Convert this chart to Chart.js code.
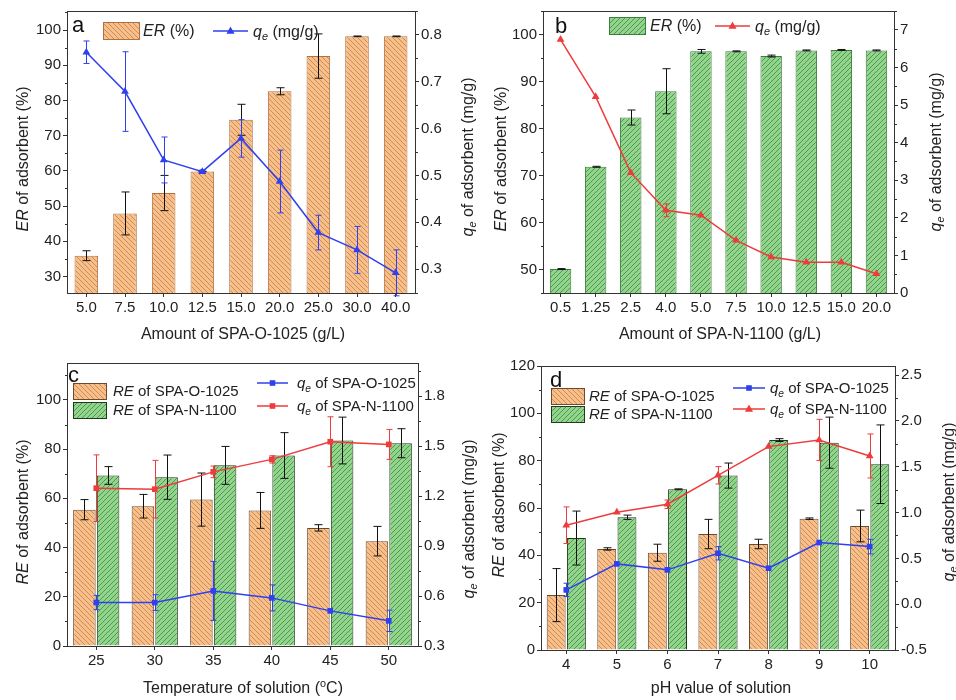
<!DOCTYPE html>
<html>
<head>
<meta charset="utf-8">
<script src="https://cdn.jsdelivr.net/npm/chart.js@4.4.1/dist/chart.umd.min.js"></script>
<style>
body { margin: 0; background: #fff; }
#wrap { position: relative; width: 956px; height: 700px; }
canvas { position: absolute; }
</style>
</head>
<body>
<div id="wrap">
<canvas id="ca" width="478" height="352" style="left:0;top:0"></canvas>
<canvas id="cb" width="478" height="352" style="left:478px;top:0"></canvas>
<canvas id="cc" width="478" height="360" style="left:0;top:340px"></canvas>
<canvas id="cd" width="478" height="360" style="left:478px;top:340px"></canvas>
</div>
<script>
// panel a: SPA-O-1025 dosage
var catsA = ['5.0', '7.5', '10.0', '12.5', '15.0', '20.0', '25.0', '30.0', '40.0'];
var erA = [35.9, 47.9, 53.7, 59.8, 74.5, 82.6, 92.6, 98.2, 98.2];
var erErrA = [1.4, 6.1, 5.0, 0.1, 4.4, 1.0, 6.3, 0.1, 0.1];
var qeA = [0.763, 0.679, 0.533, 0.508, 0.579, 0.487, 0.378, 0.341, 0.292];
var qeErrA = [0.024, 0.085, 0.049, 0.004, 0.04, 0.067, 0.037, 0.05, 0.049];
var ticksAL = [30, 40, 50, 60, 70, 80, 90, 100];
var ticksAR = [0.3, 0.4, 0.5, 0.6, 0.7, 0.8];

// panel b: SPA-N-1100 dosage
var catsB = ['0.5', '1.25', '2.5', '4.0', '5.0', '7.5', '10.0', '12.5', '15.0', '20.0'];
var erB = [50.1, 71.9, 82.4, 88.0, 96.5, 96.5, 95.5, 96.7, 96.8, 96.7];
var erErrB = [0.1, 0.1, 1.6, 4.8, 0.4, 0.1, 0.2, 0.1, 0.1, 0.1];
var qeB = [6.74, 5.22, 3.2, 2.2, 2.07, 1.4, 0.96, 0.82, 0.82, 0.51];
var qeErrB = [0, 0, 0, 0.17, 0, 0, 0, 0, 0, 0];
var ticksBL = [50, 60, 70, 80, 90, 100];
var ticksBR = [0, 1, 2, 3, 4, 5, 6, 7];

// panel c: temperature
var catsC = ['25', '30', '35', '40', '45', '50'];
var reOC = [55.4, 56.8, 59.5, 55.1, 48.0, 42.6];
var reOErrC = [4.1, 4.8, 10.8, 7.3, 1.3, 6.0];
var reNC = [69.3, 68.6, 73.4, 77.4, 83.5, 82.4];
var reNErrC = [3.6, 9.0, 7.7, 9.3, 9.5, 5.9];
var qeOC = [0.561, 0.561, 0.631, 0.589, 0.511, 0.451];
var qeOErrC = [0.043, 0.047, 0.177, 0.078, 0, 0.064];
var qeNC = [1.248, 1.242, 1.346, 1.421, 1.527, 1.511];
var qeNErrC = [0.2, 0.173, 0.035, 0.022, 0.15, 0.09];
var ticksCL = [0, 20, 40, 60, 80, 100];
var ticksCR = [0.3, 0.6, 0.9, 1.2, 1.5, 1.8];

// panel d: pH
var catsD = ['4', '5', '6', '7', '8', '9', '10'];
var reOD = [23.2, 42.7, 41.1, 49.0, 44.8, 55.5, 52.4];
var reOErrD = [11.2, 0.5, 3.6, 6.2, 2.0, 0.3, 6.7];
var reND = [47.3, 56.1, 67.9, 73.7, 88.7, 87.6, 78.5];
var reNErrD = [11.4, 0.9, 0.2, 5.3, 0.6, 10.8, 16.6];
var qeOD = [0.156, 0.44, 0.375, 0.556, 0.393, 0.673, 0.629];
var qeOErrD = [0.073, 0, 0, 0.073, 0, 0, 0.08];
var qeND = [0.862, 1.004, 1.091, 1.407, 1.72, 1.793, 1.618];
var qeNErrD = [0.2, 0, 0.046, 0.095, 0, 0.225, 0.24];
var ticksDL = [0, 20, 40, 60, 80, 100, 120];
var ticksDR = [-0.5, 0, 0.5, 1.0, 1.5, 2.0, 2.5];

var FONT = '"Liberation Sans", Arial, sans-serif';
var BLUE = '#3040ee', RED = '#ee3b3b';
Chart.defaults.font.family = FONT;
Chart.defaults.color = '#222';

// hatched fills
function hatch(bg, fg, forward) {
  var n = 5;
  var c = document.createElement('canvas');
  c.width = c.height = n;
  var x = c.getContext('2d');
  x.fillStyle = bg;
  x.fillRect(0, 0, n, n);
  x.strokeStyle = fg;
  x.lineWidth = 1;
  x.beginPath();
  if (forward) {
    x.moveTo(0, n); x.lineTo(n, 0);
    x.moveTo(-1, 1); x.lineTo(1, -1);
    x.moveTo(n - 1, n + 1); x.lineTo(n + 1, n - 1);
  } else {
    x.moveTo(0, 0); x.lineTo(n, n);
    x.moveTo(-1, n - 1); x.lineTo(1, n + 1);
    x.moveTo(n - 1, -1); x.lineTo(n + 1, 1);
  }
  x.stroke();
  return x.createPattern(c, 'repeat');
}
var ORANGE = hatch('#f7bf8a', '#cf8a55', false);
var GREEN = hatch('#92d48d', '#4d9a4b', true);

// text with italic / sub / sup runs
function rich(ctx, runs, cx, cy, rot, size, align) {
  ctx.save();
  ctx.translate(cx, cy);
  ctx.rotate(rot || 0);
  var parts = runs.map(function (r) {
    var st = r[1] || '';
    var small = st.indexOf('sub') >= 0 || st.indexOf('sup') >= 0;
    var s = small ? size * 0.68 : size;
    var font = (st.indexOf('i') >= 0 ? 'italic ' : '') + s + 'px ' + FONT;
    ctx.font = font;
    var dy = st.indexOf('sub') >= 0 ? size * 0.22 : (st.indexOf('sup') >= 0 ? -size * 0.38 : 0);
    return { t: r[0], font: font, w: ctx.measureText(r[0]).width, dy: dy };
  });
  var total = parts.reduce(function (a, p) { return a + p.w; }, 0);
  var x = align === 'left' ? 0 : -total / 2;
  ctx.fillStyle = '#222';
  ctx.textBaseline = 'alphabetic';
  parts.forEach(function (p) {
    ctx.font = p.font;
    ctx.fillText(p.t, x, size * 0.36 + p.dy);
    x += p.w;
  });
  ctx.restore();
}

function marker(ctx, style, x, y, r, color) {
  ctx.fillStyle = color;
  ctx.beginPath();
  if (style === 'triangle') {
    ctx.moveTo(x, y - r); ctx.lineTo(x + r * 0.9, y + r * 0.6); ctx.lineTo(x - r * 0.9, y + r * 0.6);
  } else {
    ctx.rect(x - r * 0.7, y - r * 0.7, r * 1.4, r * 1.4);
  }
  ctx.fill();
}

// error bars, drawn right after each dataset
var errorBars = {
  id: 'errorBars',
  afterDatasetDraw: function (chart, args) {
    var ds = chart.data.datasets[args.index];
    if (!ds.errors) return;
    var ctx = chart.ctx, ys = chart.scales[ds.yAxisID];
    var w = ds.capWidth || 4;
    ctx.save();
    ctx.strokeStyle = ds.errorColor;
    ctx.lineWidth = 1;
    args.meta.data.forEach(function (el, i) {
      var e = ds.errors[i];
      if (!e) return;
      var x = Math.round(el.x) + 0.5;
      var y1 = ys.getPixelForValue(ds.data[i] + e), y2 = ys.getPixelForValue(ds.data[i] - e);
      ctx.beginPath();
      ctx.moveTo(x, y1); ctx.lineTo(x, y2);
      ctx.moveTo(x - w, y1); ctx.lineTo(x + w, y1);
      ctx.moveTo(x - w, y2); ctx.lineTo(x + w, y2);
      ctx.stroke();
    });
    ctx.restore();
  }
};

var decorCfg = {};
var qeRuns = [['q', 'i'], ['e', 'isub'], [' of adsorbent (mg/g)']];

// frame, minor ticks, axis titles, legend
var decor = {
  id: 'decor',
  afterDraw: function (chart) {
    var d = decorCfg[chart.canvas.id];
    var ctx = chart.ctx, a = chart.chartArea;
    ctx.save();
    ctx.strokeStyle = '#333';
    ctx.lineWidth = 1;
    ctx.strokeRect(Math.round(a.left) + 0.5, Math.round(a.top) + 0.5, Math.round(a.right - a.left), Math.round(a.bottom - a.top));
    ['yL', 'yR'].forEach(function (id) {
      var s = chart.scales[id], tk = s.ticks.map(function (t) { return t.value; });
      var step = tk[1] - tk[0], x = id === 'yL' ? Math.round(a.left) + 0.5 : Math.round(a.right) + 0.5;
      var dir = id === 'yL' ? -1 : 1;
      ctx.beginPath();
      for (var v = tk[0] - step / 2; v <= s.max + 1e-9; v += step) {
        if (v < s.min - 1e-9) continue;
        var y = Math.round(s.getPixelForValue(v)) + 0.5;
        ctx.moveTo(x, y); ctx.lineTo(x + dir * 2.5, y);
      }
      ctx.stroke();
    });
    rich(ctx, d.left, d.leftPos[0], d.leftPos[1], -Math.PI / 2, 16);
    rich(ctx, qeRuns, d.rightPos[0], d.rightPos[1], -Math.PI / 2, 16);
    rich(ctx, d.x, d.xPos[0], d.xPos[1], 0, 16);
    ctx.font = '22px ' + FONT;
    ctx.fillStyle = '#111';
    ctx.fillText(d.letter[0], d.letter[1], d.letter[2]);
    d.legend.forEach(function (it) {
      if (it.patch) {
        ctx.fillStyle = it.patch;
        ctx.fillRect(it.x, it.y, it.w, it.h);
        ctx.strokeStyle = it.border;
        ctx.strokeRect(it.x + 0.5, it.y + 0.5, it.w, it.h);
        rich(ctx, it.text, it.tx, it.y + it.h / 2, 0, it.size, 'left');
      } else {
        ctx.strokeStyle = it.color;
        ctx.lineWidth = 1.5;
        ctx.beginPath(); ctx.moveTo(it.x1, it.y); ctx.lineTo(it.x2, it.y); ctx.stroke();
        marker(ctx, it.marker, (it.x1 + it.x2) / 2, it.y, it.marker === 'triangle' ? 4.5 : 4, it.color);
        rich(ctx, it.text, it.tx, it.y, 0, it.size, 'left');
      }
    });
    ctx.restore();
  }
};

function yAxis(pos, min, max, list, width, fmt) {
  return {
    type: 'linear', position: pos, min: min, max: max,
    afterBuildTicks: function (s) { s.ticks = list.map(function (v) { return { value: v }; }); },
    afterFit: function (s) { s.width = width; },
    grid: { drawOnChartArea: false, tickLength: 4, color: '#333' },
    border: { color: '#333' },
    ticks: { font: { size: 15 }, color: '#222', padding: 2, callback: fmt }
  };
}
function xAxis(height) {
  return {
    type: 'category', offset: true,
    afterFit: function (s) { s.height = height; },
    grid: { offset: false, drawOnChartArea: false, tickLength: 4, color: '#333' },
    border: { color: '#333' },
    ticks: { font: { size: 15 }, color: '#222', padding: 2, autoSkip: false, maxRotation: 0 }
  };
}
function barDs(data, errors, fill, border, bp, cp) {
  return { type: 'bar', data: data, errors: errors, errorColor: '#111', backgroundColor: fill,
    borderColor: border, borderWidth: 1, yAxisID: 'yL', order: 2, barPercentage: bp, categoryPercentage: cp };
}
function lineDs(data, errors, color, style) {
  return { type: 'line', data: data, errors: errors, errorColor: color, capWidth: 3, borderColor: color,
    backgroundColor: color, borderWidth: 1.5, pointStyle: style, pointRadius: style === 'rect' ? 4 : 4.5,
    pointBorderWidth: 0, yAxisID: 'yR', order: 1, tension: 0 };
}
function makeChart(id, labels, datasets, scales, top) {
  return new Chart(document.getElementById(id), {
    type: 'bar',
    data: { labels: labels, datasets: datasets },
    options: {
      responsive: false, animation: false,
      layout: { padding: { top: top, left: 0, right: 0, bottom: 0 } },
      plugins: { legend: { display: false }, tooltip: { enabled: false } },
      events: [],
      scales: scales
    },
    plugins: [errorBars, decor]
  });
}
var f1 = function (v) { return v.toFixed(1); };
var f0 = function (v) { return String(v); };
var erRuns = [['ER', 'i'], [' of adsorbent (%)']];
var reRuns = [['RE', 'i'], [' of adsorbent (%)']];

decorCfg.ca = {
  left: erRuns, leftPos: [22, 159], rightPos: [467, 157],
  x: [['Amount of SPA-O-1025 (g/L)']], xPos: [243, 333], letter: ['a', 72, 32],
  legend: [
    { patch: ORANGE, border: '#b07040', x: 103, y: 22, w: 36, h: 17, tx: 143, size: 16, text: [['ER', 'i'], [' (%)']] },
    { color: BLUE, marker: 'triangle', x1: 213, x2: 248, y: 31, tx: 253, size: 16, text: [['q', 'i'], ['e', 'isub'], [' (mg/g)']] }
  ]
};
makeChart('ca', catsA, [
  lineDs(qeA, qeErrA, BLUE, 'triangle'),
  barDs(erA, erErrA, ORANGE, '#b07040', 0.61, 1)
], { x: xAxis(59), yL: yAxis('left', 25.3, 105.4, ticksAL, 67, f0), yR: yAxis('right', 0.249, 0.851, ticksAR, 63, f1) }, 10);

decorCfg.cb = {
  left: erRuns, leftPos: [22, 159], rightPos: [457, 152],
  x: [['Amount of SPA-N-1100 (g/L)']], xPos: [242, 333], letter: ['b', 77, 33],
  legend: [
    { patch: GREEN, border: '#3d7d3d', x: 131, y: 17, w: 36, h: 17, tx: 172, size: 16, text: [['ER', 'i'], [' (%)']] },
    { color: RED, marker: 'triangle', x1: 237, x2: 272, y: 26, tx: 277, size: 16, text: [['q', 'i'], ['e', 'isub'], [' (mg/g)']] }
  ]
};
makeChart('cb', catsB, [
  lineDs(qeB, qeErrB, RED, 'triangle'),
  barDs(erB, erErrB, GREEN, '#3d7d3d', 0.61, 1)
], { x: xAxis(59), yL: yAxis('left', 45, 105.1, ticksBL, 65, f0), yR: yAxis('right', 0, 7.5, ticksBR, 62, f0) }, 9);

decorCfg.cc = {
  left: reRuns, leftPos: [22, 172], rightPos: [468, 179],
  x: [['Temperature of solution ('], ['o', 'sup'], ['C)']], xPos: [243, 347], letter: ['c', 68, 42],
  legend: [
    { patch: ORANGE, border: '#6b4a2e', x: 73, y: 43, w: 33, h: 16, tx: 113, size: 15, text: [['RE', 'i'], [' of SPA-O-1025']] },
    { patch: GREEN, border: '#1f3a1f', x: 73, y: 62, w: 33, h: 16, tx: 113, size: 15, text: [['RE', 'i'], [' of SPA-N-1100']] },
    { color: BLUE, marker: 'rect', x1: 257, x2: 288, y: 43, tx: 297, size: 15, text: [['q', 'i'], ['e', 'isub'], [' of SPA-O-1025']] },
    { color: RED, marker: 'rect', x1: 257, x2: 288, y: 66, tx: 297, size: 15, text: [['q', 'i'], ['e', 'isub'], [' of SPA-N-1100']] }
  ]
};
makeChart('cc', catsC, [
  lineDs(qeOC, qeOErrC, BLUE, 'rect'),
  lineDs(qeNC, qeNErrC, RED, 'rect'),
  barDs(reOC, reOErrC, ORANGE, '#6b4a2e', 0.95, 0.81),
  barDs(reNC, reNErrC, GREEN, '#1f3a1f', 0.95, 0.81)
], { x: xAxis(54), yL: yAxis('left', 0, 115, ticksCL, 67, f0), yR: yAxis('right', 0.3, 2.0, ticksCR, 60, f1) }, 23);

decorCfg.cd = {
  left: reRuns, leftPos: [20, 165], rightPos: [470, 162],
  x: [['pH value of solution']], xPos: [243, 347], letter: ['d', 72, 47],
  legend: [
    { patch: ORANGE, border: '#6b4a2e', x: 73, y: 48, w: 33, h: 16, tx: 111, size: 15, text: [['RE', 'i'], [' of SPA-O-1025']] },
    { patch: GREEN, border: '#1f3a1f', x: 73, y: 66, w: 33, h: 16, tx: 111, size: 15, text: [['RE', 'i'], [' of SPA-N-1100']] },
    { color: BLUE, marker: 'rect', x1: 255, x2: 287, y: 48, tx: 292, size: 15, text: [['q', 'i'], ['e', 'isub'], [' of SPA-O-1025']] },
    { color: RED, marker: 'triangle', x1: 255, x2: 287, y: 69, tx: 292, size: 15, text: [['q', 'i'], ['e', 'isub'], [' of SPA-N-1100']] }
  ]
};
makeChart('cd', catsD, [
  lineDs(qeOD, qeOErrD, BLUE, 'rect'),
  lineDs(qeND, qeNErrD, RED, 'triangle'),
  barDs(reOD, reOErrD, ORANGE, '#6b4a2e', 0.935, 0.8),
  barDs(reND, reNErrD, GREEN, '#1f3a1f', 0.935, 0.8)
], { x: xAxis(50), yL: yAxis('left', 0, 120, ticksDL, 63, f0), yR: yAxis('right', -0.5, 2.6, ticksDR, 61, f1) }, 26);
</script>
</body>
</html>
